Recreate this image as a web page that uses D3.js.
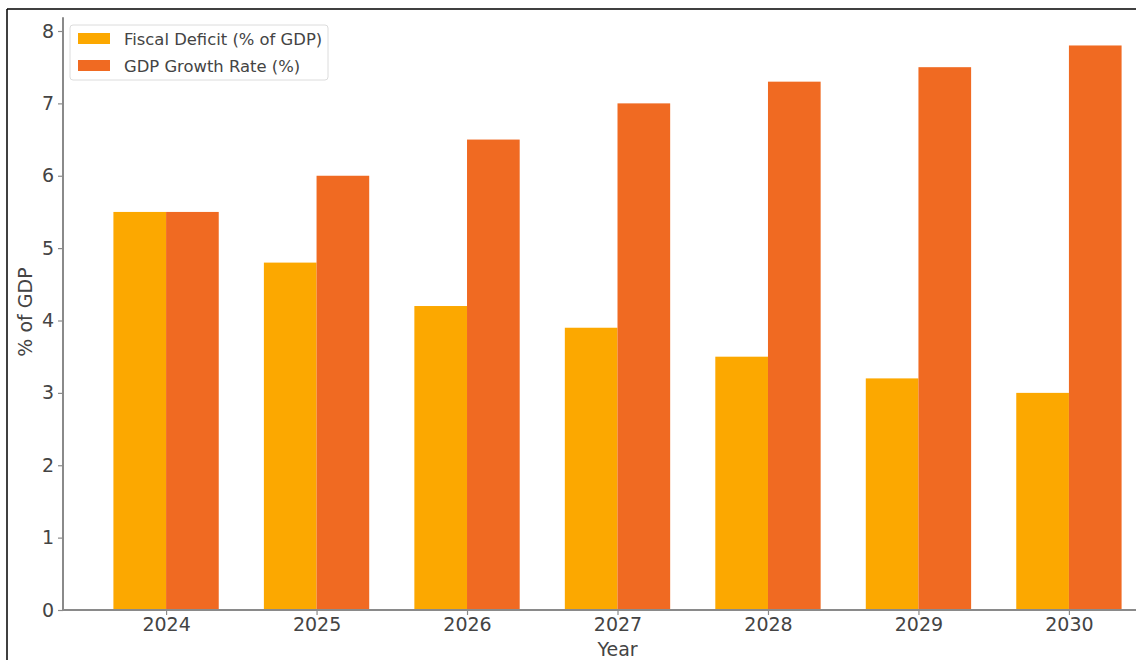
<!DOCTYPE html>
<html>
<head>
<meta charset="utf-8">
<script src="https://cdn.jsdelivr.net/npm/d3@7"></script>
<style>
  html, body { margin: 0; padding: 0; background: #fff; }
  svg { display: block; font-family: "DejaVu Sans", sans-serif; }
</style>
</head>
<body>
<svg id="chart" width="1136" height="660"></svg>
<script>
const years = ["2024", "2025", "2026", "2027", "2028", "2029", "2030"];
const fiscalDeficit = [5.5, 4.8, 4.2, 3.9, 3.5, 3.2, 3.0];
const gdpGrowth = [5.5, 6.0, 6.5, 7.0, 7.3, 7.5, 7.8];
const yTicks = [0, 1, 2, 3, 4, 5, 6, 7, 8];
const seriesNames = ["Fiscal Deficit (% of GDP)", "GDP Growth Rate (%)"];
const seriesColors = ["#FCA800", "#F06A22"];

const svg = d3.select("#chart");
const barW = 0.35;
const x = d3.scaleLinear().domain([-0.685, years.length - 1 + 0.685]).range([63, 1172]);
const y = d3.scaleLinear().domain([0, 8]).range([610, 31]);
const yTop = 7.8 * 1.05;

// frame
svg.append("line").attr("x1", 7).attr("x2", 1136).attr("y1", 9).attr("y2", 9)
  .attr("stroke", "#000").attr("stroke-width", 1.5);
svg.append("line").attr("x1", 7).attr("x2", 7).attr("y1", 9).attr("y2", 660)
  .attr("stroke", "#000").attr("stroke-width", 1.5);

// bars
const series = [fiscalDeficit, gdpGrowth];
series.forEach((vals, si) => {
  svg.append("g").selectAll("rect").data(vals).join("rect")
    .attr("x", (d, i) => x(i + (si === 0 ? -barW : 0)))
    .attr("width", x(barW) - x(0))
    .attr("y", d => y(d))
    .attr("height", d => y(0) - y(d))
    .attr("fill", seriesColors[si]);
});

// axes
const textColor = "#444";
const spine = "#8a8a8a";
const yAxis = d3.axisLeft(y).tickValues(yTicks).tickFormat(d3.format("d")).tickSize(5).tickPadding(4);
const gy = svg.append("g").attr("transform", "translate(63,0)").call(yAxis);
gy.select(".domain").remove();
gy.selectAll(".tick line").attr("stroke", spine).attr("stroke-width", 1.2);
gy.selectAll(".tick text").attr("fill", textColor).style("font-size", "19px")
  .style("font-family", "DejaVu Sans, sans-serif");

const xAxis = d3.axisBottom(x).tickValues(d3.range(years.length)).tickFormat(i => years[i]).tickSize(5).tickPadding(3);
const gx = svg.append("g").attr("transform", "translate(0,610)").call(xAxis);
gx.select(".domain").remove();
gx.selectAll(".tick line").attr("stroke", spine).attr("stroke-width", 1.2);
gx.selectAll(".tick text").attr("fill", textColor).style("font-size", "19px")
  .style("font-family", "DejaVu Sans, sans-serif");

// spines
svg.append("line").attr("x1", 63).attr("x2", 63).attr("y1", y(yTop)).attr("y2", 611)
  .attr("stroke", spine).attr("stroke-width", 2);
svg.append("line").attr("x1", 62).attr("x2", 1172).attr("y1", 610).attr("y2", 610)
  .attr("stroke", spine).attr("stroke-width", 2);

// axis labels
svg.append("text").attr("x", (x(0) + x(6)) / 2).attr("y", 656).attr("text-anchor", "middle")
  .attr("fill", textColor).style("font-size", "19px").text("Year");
svg.append("text").attr("transform", "translate(32,312) rotate(-90)").attr("text-anchor", "middle")
  .attr("fill", textColor).style("font-size", "19px").text("% of GDP");

// legend
const lg = svg.append("g");
lg.append("rect").attr("x", 70).attr("y", 25).attr("width", 258).attr("height", 55)
  .attr("rx", 3).attr("fill", "#fff").attr("fill-opacity", 0.8)
  .attr("stroke", "#dcdcdc").attr("stroke-width", 1);
seriesNames.forEach((name, i) => {
  lg.append("rect").attr("x", 78).attr("y", 33 + i * 27).attr("width", 32).attr("height", 11)
    .attr("fill", seriesColors[i]);
  lg.append("text").attr("x", 124).attr("y", 45 + i * 27).attr("fill", textColor)
    .style("font-size", "16.4px").text(name);
});
</script>
</body>
</html>
